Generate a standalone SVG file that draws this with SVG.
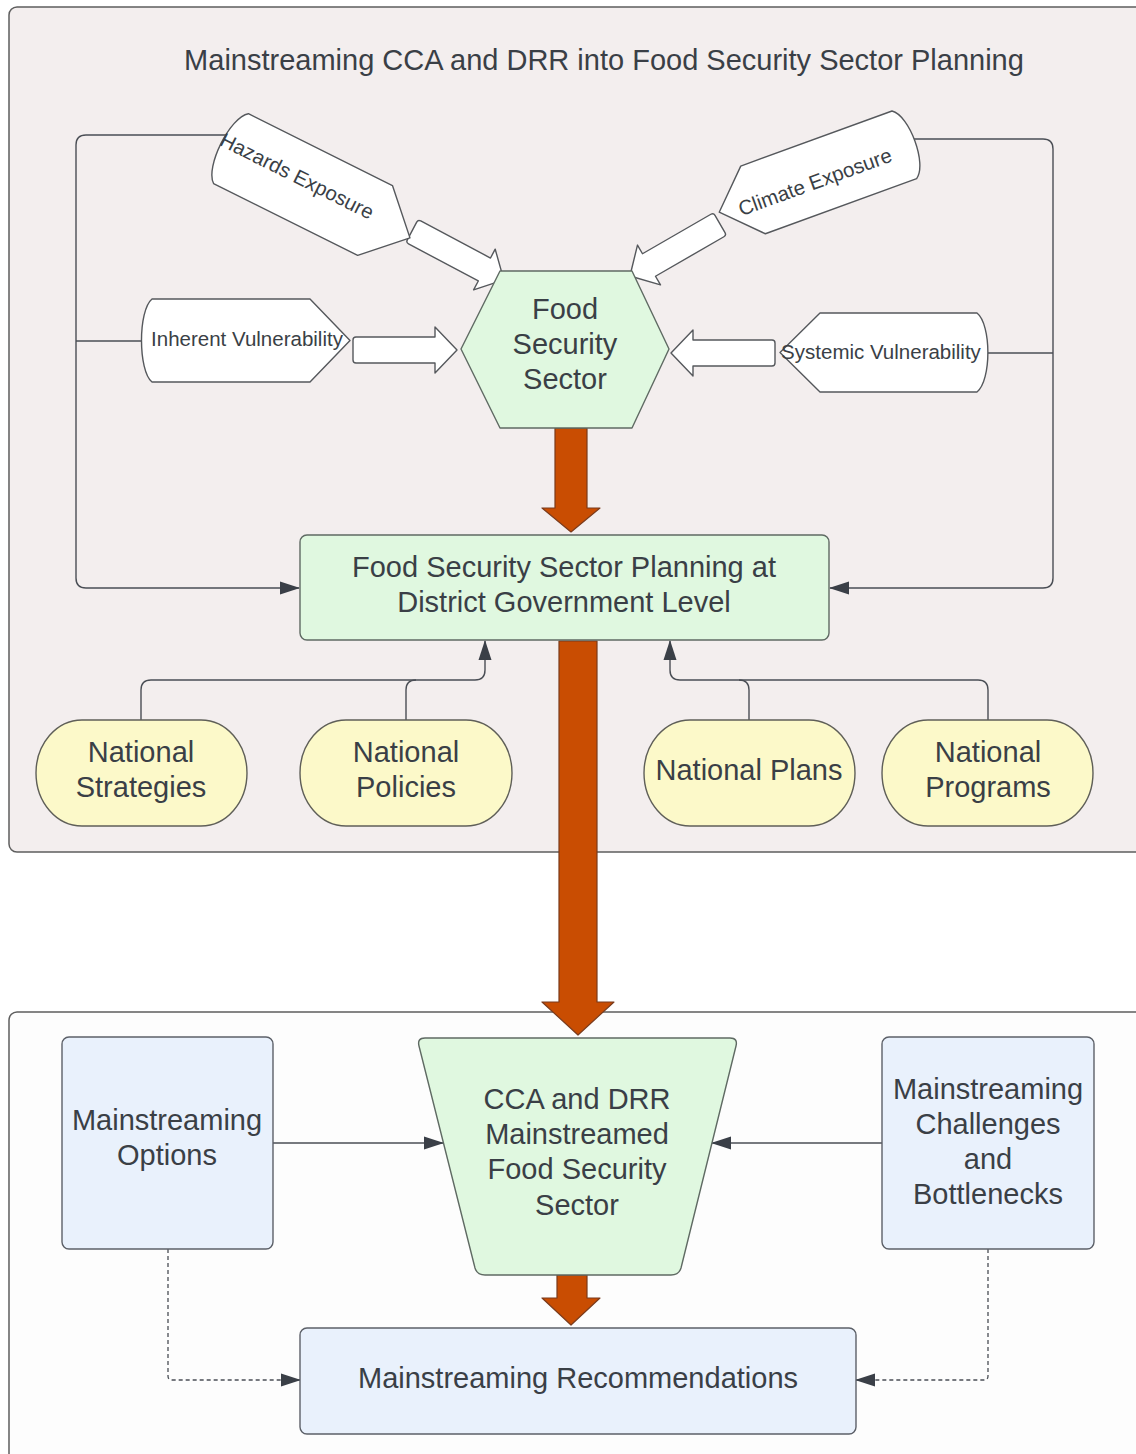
<svg xmlns="http://www.w3.org/2000/svg" width="1136" height="1454" viewBox="0 0 1136 1454">
  <style>
    .lbl { font-family: "Liberation Sans", Arial, sans-serif; font-size: 29px; fill: #3a3f46; text-anchor: middle; }
    .sm { font-family: "Liberation Sans", Arial, sans-serif; font-size: 20.5px; fill: #3a3f46; text-anchor: middle; }
    .panel { stroke: #5e5e5e; stroke-width: 1.5; }
    .green { fill: #e0f8e0; stroke: #5f6a63; stroke-width: 1.4; stroke-linejoin: round; }
    .yellow { fill: #fcf9c9; stroke: #5f5f58; stroke-width: 1.4; }
    .blue { fill: #e9f1fc; stroke: #5c6068; stroke-width: 1.4; }
    .tag { fill: #ffffff; stroke: #55585c; stroke-width: 1.4; stroke-linejoin: round; }
    .flow { fill: #c94d02; stroke: #7a3b1c; stroke-width: 1.2; stroke-linejoin: round; }
    .wire { fill: none; stroke: #4a4e55; stroke-width: 1.4; }
    .dash { fill: none; stroke: #4a4e55; stroke-width: 1.3; stroke-dasharray: 4 3; }
  </style>
  <defs>
    <marker id="tri" markerUnits="userSpaceOnUse" markerWidth="20" markerHeight="14" refX="19" refY="7" orient="auto">
      <path d="M0,0.5 L20,7 L0,13.5 Z" fill="#3a3f47"/>
    </marker>
    <!-- hollow block arrow, base at origin, pointing along +x -->
    <path id="blockArrow" d="M 3 -13 L 82 -13 L 82 -23 L 104 0 L 82 23 L 82 13 L 3 13 Q 0 13 0 10 L 0 -10 Q 0 -13 3 -13 Z"/>
  </defs>

  <!-- panels -->
  <rect class="panel" x="9" y="7" width="1140" height="845" rx="8" fill="#f3eeee"/>
  <rect class="panel" x="9" y="1012" width="1140" height="470" rx="8" fill="#fdfdfd"/>

  <text class="lbl" x="604" y="70">Mainstreaming CCA and DRR into Food Security Sector Planning</text>

  <!-- connectors -->
  <g id="connectors">
    <path class="wire" d="M 228 135 L 86 135 Q 76 135 76 145 L 76 578 Q 76 588 86 588 L 299 588" marker-end="url(#tri)"/>
    <path class="wire" d="M 145 341 L 76 341"/>
    <path class="wire" d="M 900 139 L 1043 139 Q 1053 139 1053 149 L 1053 578 Q 1053 588 1043 588 L 830 588" marker-end="url(#tri)"/>
    <path class="wire" d="M 984 353 L 1053 353"/>

    <path class="wire" d="M 141 720 L 141 690 Q 141 680 151 680 L 475 680 Q 485 680 485 670 L 485 641" marker-end="url(#tri)"/>
    <path class="wire" d="M 406 720 L 406 690 Q 406 680 416 680"/>
    <path class="wire" d="M 988 720 L 988 690 Q 988 680 978 680 L 680 680 Q 670 680 670 670 L 670 641" marker-end="url(#tri)"/>
    <path class="wire" d="M 749 720 L 749 690 Q 749 680 739 680"/>

    <path class="wire" d="M 273 1143 L 443 1143" marker-end="url(#tri)"/>
    <path class="wire" d="M 882 1143 L 712 1143" marker-end="url(#tri)"/>

    <path class="dash" d="M 168 1249 L 168 1376 Q 168 1380 172 1380 L 300 1380" marker-end="url(#tri)"/>
    <path class="dash" d="M 988 1249 L 988 1376 Q 988 1380 984 1380 L 856 1380" marker-end="url(#tri)"/>

    <!-- hollow input arrows -->
    <use href="#blockArrow" class="tag" transform="translate(412,231) rotate(28)"/>
    <use href="#blockArrow" class="tag" transform="translate(720,224) rotate(150)"/>
    <use href="#blockArrow" class="tag" transform="translate(353,350)"/>
    <use href="#blockArrow" class="tag" transform="translate(775,353) rotate(180)"/>

    <!-- main flow arrows -->
    <path class="flow" d="M 555 428 L 587 428 L 587 508 L 600 508 L 571 532 L 542 508 L 555 508 Z"/>
    <path class="flow" d="M 559 641 L 597 641 L 597 1002 L 614 1002 L 578 1035 L 542 1002 L 559 1002 Z"/>
    <path class="flow" d="M 557 1275 L 587 1275 L 587 1298 L 600 1298 L 571 1325 L 542 1298 L 557 1298 Z"/>
  </g>

  <!-- exposure and vulnerability tags -->
  <g id="hazards-exposure" transform="translate(316,191) rotate(26.5)">
    <path class="tag" d="M -95 -39 L 66 -39 L 105 0 L 66 39 L -95 39 C -110 28 -110 -28 -95 -39 Z"/>
  </g>
  <text class="sm" transform="translate(297,176) rotate(26.5)" x="0" y="7">Hazards Exposure</text>

  <g id="climate-exposure" transform="translate(816,177) rotate(-20)">
    <path class="tag" d="M 94 -36 L -67 -36 L -103 0 L -67 36 L 94 36 C 109 26 109 -26 94 -36 Z"/>
  </g>
  <text class="sm" transform="translate(815,182) rotate(-20)" x="0" y="7">Climate Exposure</text>

  <g id="inherent-vulnerability">
    <path class="tag" transform="translate(246,340.5)" d="M -94 -41.5 L 64 -41.5 L 104 0 L 64 41.5 L -94 41.5 C -108 30 -108 -30 -94 -41.5 Z"/>
    <text class="sm" x="247" y="346">Inherent Vulnerability</text>
  </g>

  <g id="systemic-vulnerability">
    <path class="tag" transform="translate(883.5,352.5)" d="M 93.5 -39.5 L -63.5 -39.5 L -103.5 0 L -63.5 39.5 L 93.5 39.5 C 108 28 108 -28 93.5 -39.5 Z"/>
    <text class="sm" x="881" y="359">Systemic Vulnerability</text>
  </g>

  <!-- core nodes -->
  <g id="food-security-sector">
    <path class="green" d="M 500 271 L 632 271 L 669 349 L 632 428 L 500 428 L 461 349 Z"/>
    <text class="lbl" x="565" y="319">Food</text>
    <text class="lbl" x="565" y="354">Security</text>
    <text class="lbl" x="565" y="389">Sector</text>
  </g>

  <g id="district-planning">
    <rect class="green" x="300" y="535" width="529" height="105" rx="7" fill="#e1f7e1"/>
    <text class="lbl" x="564" y="577">Food Security Sector Planning at</text>
    <text class="lbl" x="564" y="612">District Government Level</text>
  </g>

  <g id="national-strategies">
    <rect class="yellow" x="36" y="720" width="211" height="106" rx="46" ry="53"/>
    <text class="lbl" x="141" y="762">National</text>
    <text class="lbl" x="141" y="797">Strategies</text>
  </g>
  <g id="national-policies">
    <rect class="yellow" x="300" y="720" width="212" height="106" rx="46" ry="53"/>
    <text class="lbl" x="406" y="762">National</text>
    <text class="lbl" x="406" y="797">Policies</text>
  </g>
  <g id="national-plans">
    <rect class="yellow" x="644" y="720" width="211" height="106" rx="46" ry="53"/>
    <text class="lbl" x="749" y="780">National Plans</text>
  </g>
  <g id="national-programs">
    <rect class="yellow" x="882" y="720" width="211" height="106" rx="46" ry="53"/>
    <text class="lbl" x="988" y="762">National</text>
    <text class="lbl" x="988" y="797">Programs</text>
  </g>

  <!-- mainstreaming stage -->
  <g id="mainstreamed-sector">
    <path class="green" d="M 425 1038 L 730 1038 Q 738 1038 736 1046 L 681 1268 Q 679 1275 671 1275 L 485 1275 Q 477 1275 475 1268 L 419 1046 Q 417 1038 425 1038 Z"/>
    <text class="lbl" x="577" y="1109">CCA and DRR</text>
    <text class="lbl" x="577" y="1144">Mainstreamed</text>
    <text class="lbl" x="577" y="1179">Food Security</text>
    <text class="lbl" x="577" y="1215">Sector</text>
  </g>

  <g id="mainstreaming-options">
    <rect class="blue" x="62" y="1037" width="211" height="212" rx="7"/>
    <text class="lbl" x="167" y="1130">Mainstreaming</text>
    <text class="lbl" x="167" y="1165">Options</text>
  </g>

  <g id="mainstreaming-challenges">
    <rect class="blue" x="882" y="1037" width="212" height="212" rx="7"/>
    <text class="lbl" x="988" y="1099">Mainstreaming</text>
    <text class="lbl" x="988" y="1134">Challenges</text>
    <text class="lbl" x="988" y="1169">and</text>
    <text class="lbl" x="988" y="1204">Bottlenecks</text>
  </g>

  <g id="mainstreaming-recommendations">
    <rect class="blue" x="300" y="1328" width="556" height="106" rx="7"/>
    <text class="lbl" x="578" y="1388">Mainstreaming Recommendations</text>
  </g>
</svg>
